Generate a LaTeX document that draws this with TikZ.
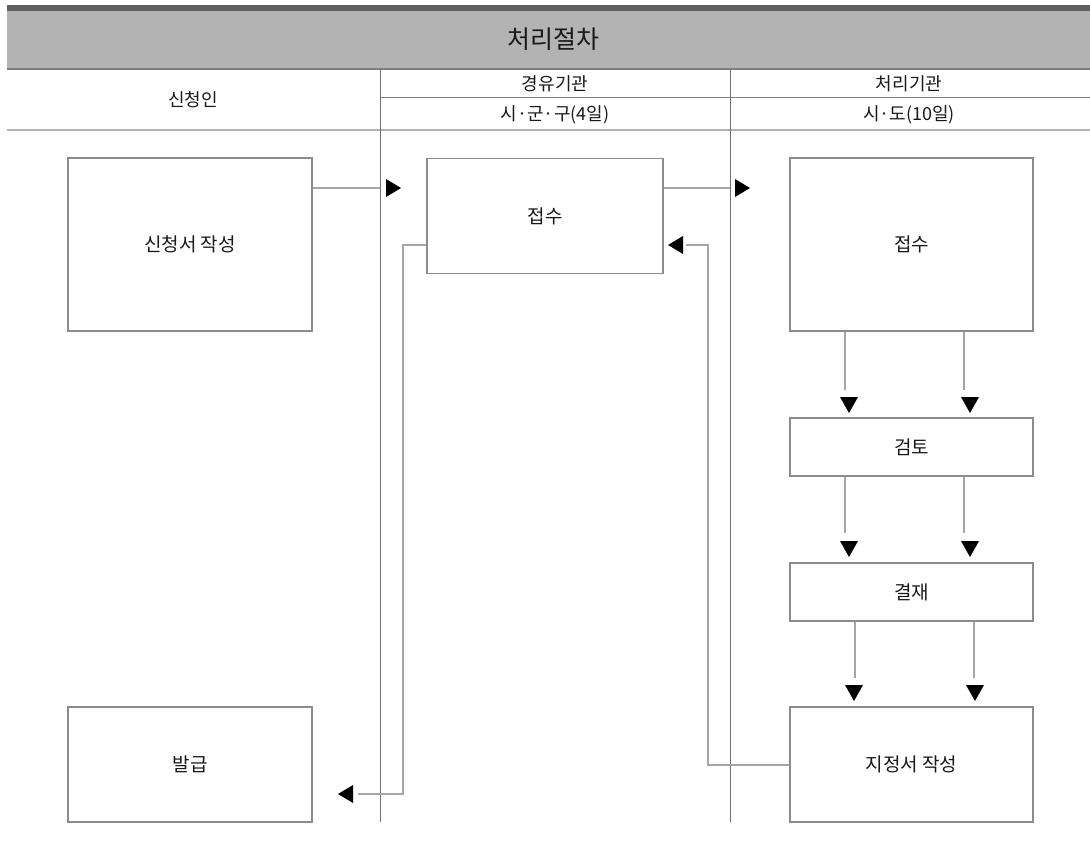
\documentclass[tikz,border=0pt]{standalone}
\usepackage{fontspec}
\setmainfont{Noto Sans CJK KR}
\begin{document}
\begin{tikzpicture}[x=1pt,y=-1pt,
  box/.style={draw=boxgray,line width=1.1pt,inner sep=0pt,font=\fontsize{19}{21}\selectfont,text=black!90},
  conn/.style={draw=conngray,line width=1.1pt},
  sep/.style={draw=sepgray,line width=1pt},
  hdr/.style={font=\fontsize{18}{20}\selectfont,text=black!90,inner sep=0pt},
  tipr/.pic={\fill[black] (0,0) -- (-15,-9) -- (-15,9) -- cycle;},
  tipl/.pic={\fill[black] (0,0) -- (15,-9) -- (15,9) -- cycle;},
  tipd/.pic={\fill[black] (0,0) -- (-9,-16) -- (9,-16) -- cycle;}]
\definecolor{boxgray}{HTML}{8C8C8C}
\definecolor{conngray}{HTML}{A6A6A6}
\definecolor{sepgray}{HTML}{707070}
\definecolor{hdrfill}{HTML}{B3B3B3}
\definecolor{hdrdark}{HTML}{5F5F5F}
\useasboundingbox (0,0) rectangle (1090,848);
% header
\fill[hdrfill] (7,11) rectangle (1090,68);
\fill[hdrdark] (7,5.5) rectangle (1090,11);
\draw[draw=black!50,line width=1.2pt] (7,69) -- (1090,69);
\draw[draw=black!30,line width=2pt] (7,130) -- (1090,130);
\draw[draw=black!50,line width=1pt] (380,98) -- (1090,98);
\node[hdr,font=\fontsize{25}{27}\selectfont] (title) at (553.5,39.5) {처리절차};
\node[hdr] (h1) at (193,100) {신청인};
\node[hdr] (h2) at (555,84) {경유기관};
\node[hdr] (h3) at (555,115) {시·군·구(4일)};
\node[hdr] (h4) at (909,84) {처리기관};
\node[hdr] (h5) at (909,115) {시·도(10일)};
% lane separators
\draw[sep] (380,69) -- (380,822);
\draw[sep] (730,69) -- (730,822);
% boxes
\node[box,minimum width=244pt,minimum height=173pt] (app) at (190,244.5) {신청서 작성};
\node[box,minimum width=244pt,minimum height=115pt] (iss) at (190,764.5) {발급};
\node[box,minimum width=236pt,minimum height=115pt] (rc1) at (545,216) {접수};
\node[box,minimum width=243pt,minimum height=173pt] (rc2) at (911.5,244.5) {접수};
\node[box,minimum width=243pt,minimum height=58pt] (rev) at (911.5,447) {검토};
\node[box,minimum width=243pt,minimum height=58pt] (apr) at (911.5,592) {결재};
\node[box,minimum width=243pt,minimum height=115pt] (des) at (911.5,764.5) {지정서 작성};
% connector end points
\coordinate (e1) at (380,188);
\coordinate (e2) at (730,188);
\coordinate (r1) at (708,765);
\coordinate (r2) at (708,245);
\coordinate (r3) at (686,245);
\coordinate (s1) at (403,245);
\coordinate (s2) at (403,794);
\coordinate (s3) at (358,794);
\coordinate (d1) at (845,390);
\coordinate (d2) at (964,390);
\coordinate (d3) at (845,533);
\coordinate (d4) at (964,533);
\coordinate (d5) at (855,678);
\coordinate (d6) at (974,678);
% connectors
\draw[conn] (app.east |- e1) -- (e1);
\pic at (401,188) {tipr};
\draw[conn] (rc1.east |- e2) -- (e2);
\pic at (750,188) {tipr};
\draw[conn] (des.west |- r1) -- (r1) -- (r2) -- (r3);
\pic at (668,245) {tipl};
\draw[conn] (rc1.west |- s1) -- (s1) -- (s2) -- (s3);
\pic at (338,794) {tipl};
\draw[conn] (rc2.south -| d1) -- (d1);
\draw[conn] (rc2.south -| d2) -- (d2);
\pic at (849,413) {tipd};
\pic at (970,413) {tipd};
\draw[conn] (rev.south -| d3) -- (d3);
\draw[conn] (rev.south -| d4) -- (d4);
\pic at (849,557) {tipd};
\pic at (970,557) {tipd};
\draw[conn] (apr.south -| d5) -- (d5);
\draw[conn] (apr.south -| d6) -- (d6);
\pic at (854,701) {tipd};
\pic at (975,701) {tipd};
\end{tikzpicture}
\end{document}
